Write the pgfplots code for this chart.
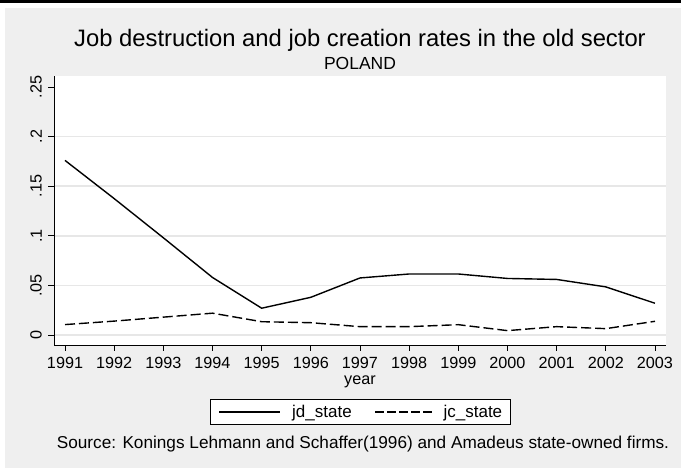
\documentclass[border=0pt]{standalone}
\usepackage{pgfplots}
\pgfplotsset{compat=1.18}
\usepackage{fontspec}
\setmainfont{Liberation Sans}
\definecolor{bggray}{RGB}{239,239,239}
\definecolor{gridgray}{RGB}{231,231,231}
\begin{document}
\begin{tikzpicture}[x=1pt,y=1pt]
\path[use as bounding box, fill=white] (0,0) rectangle (681,468);
\fill[black] (0,464.5) rectangle (681,468);
\fill[bggray] (5,0) rectangle (681,460);
\begin{axis}[
  at={(54pt,123pt)}, anchor=south west,
  scale only axis, width=612pt, height=269pt,
  xmin=1990.776, xmax=2003.224, ymin=-0.01008, ymax=0.2611,
  axis background/.style={fill=white},
  axis x line*=bottom, axis y line*=left,
  axis line style={-, line width=0.9pt, black},
  xtick={1991,1992,...,2003},
  ytick={0,0.05,0.1,0.15,0.2},
  yticklabels={0,.05,.1,.15,.2},
  extra y ticks={0.25}, extra y tick labels={.25},
  extra y tick style={grid=none},
  ymajorgrids, major grid style={gridgray, line width=1.5pt},
  tick align=outside, major tick length=6pt,
  tick style={black, line width=0.8pt},
  /pgf/number format/assume math mode=true,
  yticklabel style={font=\fontsize{16.2}{18}\selectfont, rotate=90, anchor=south, inner sep=0pt},
  xticklabel style={font=\fontsize{16.2}{18}\selectfont, anchor=north, inner sep=0pt, /pgf/number format/1000 sep=},
  yticklabel shift=6pt,
  xticklabel shift=5.5pt,
  xlabel={year},
  xlabel style={at={(axis description cs:0.5,0)}, anchor=base, yshift=-40pt, font=\fontsize{16.2}{18}\selectfont, inner sep=0pt},
  legend columns=2,
  legend cell align=left,
  legend style={at={(0.5008,-0.249)}, anchor=center, draw=black, line width=0.6pt, fill=white,
    inner xsep=8pt, inner ysep=5.5pt, font=\fontsize{17}{20}\selectfont, nodes={inner sep=0pt},
    /tikz/every odd column/.append style={column sep=11pt},
    /tikz/every even column/.append style={column sep=23pt}},
]
\addplot[black, line width=1.4pt, line join=round, mark=none,
  legend image code/.code={\draw[black, line width=1.4pt] (0pt,0pt) -- (61pt,0pt);}]
  coordinates {
  (1991,0.176) (1992,0.1375) (1993,0.098) (1994,0.058) (1995,0.027)
  (1996,0.038) (1997,0.0575) (1998,0.0615) (1999,0.0615) (2000,0.057)
  (2001,0.056) (2002,0.0485) (2003,0.032)};
\addlegendentry{jd\_state}
\addplot[black, line width=1.4pt, line join=round, mark=none, dash pattern=on 10pt off 4pt,
  legend image code/.code={\draw[black, line width=1.4pt, dash pattern=on 8.5pt off 3.5pt] (0pt,0pt) -- (56.5pt,0pt);}]
  coordinates {
  (1991,0.0105) (1992,0.014) (1993,0.018) (1994,0.022) (1995,0.0134)
  (1996,0.0124) (1997,0.0084) (1998,0.0084) (1999,0.0104) (2000,0.0044)
  (2001,0.0084) (2002,0.0064) (2003,0.0138)};
\addlegendentry{jc\_state}
\end{axis}
\node[anchor=base, font=\fontsize{23.8}{28}\selectfont, inner sep=0pt] at (360,421) {Job destruction and job creation rates in the old sector};
\node[anchor=base, font=\fontsize{17.5}{20}\selectfont, inner sep=0pt] at (360,398.7) {POLAND};
\node[anchor=base, font=\fontsize{17.2}{20}\selectfont, inner sep=0pt] at (363,19) {Source: Konings Lehmann and Schaffer(1996) and Amadeus state-owned firms.};
\end{tikzpicture}
\end{document}
